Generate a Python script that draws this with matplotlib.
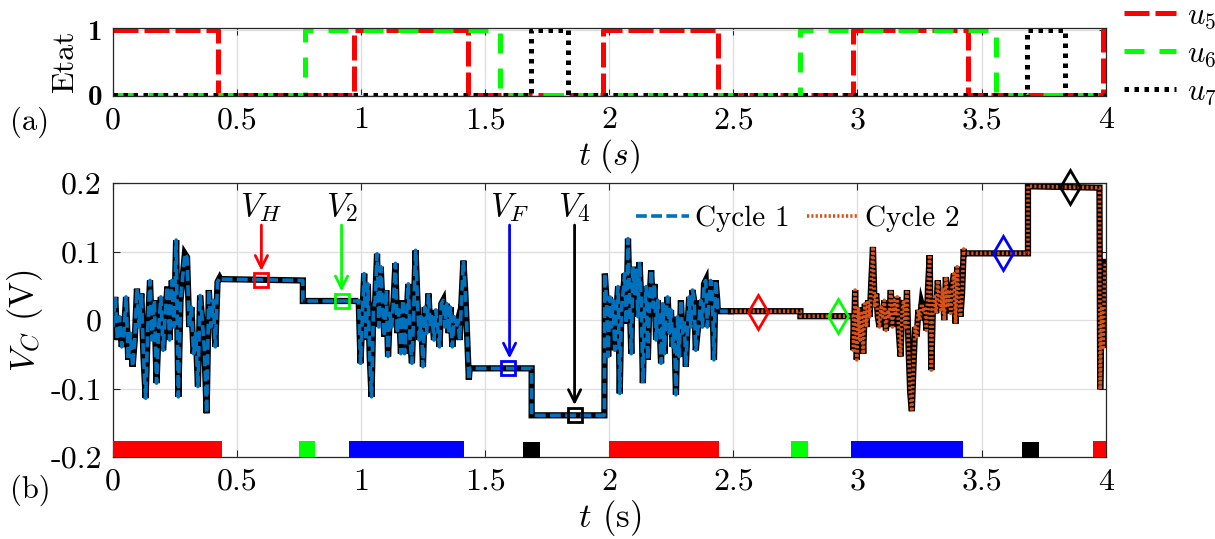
import numpy as np
import matplotlib
matplotlib.use("Agg")
import matplotlib.pyplot as plt

plt.rcParams['font.family'] = ['cmr10', 'DejaVu Serif']
plt.rcParams['mathtext.fontset'] = 'cm'
plt.rcParams['axes.unicode_minus'] = False
plt.rcParams['axes.formatter.use_mathtext'] = True

# ---- (a) switching states: times where each signal toggles, starting level ----
u5_switch = [0.0, 0.425, 0.97, 1.43, 1.975, 2.437, 2.98, 3.444, 3.99, 4.0]
u5_levels = [1, 0, 1, 0, 1, 0, 1, 0, 1]
u6_switch = [0.0, 0.773, 1.56, 2.77, 3.56, 4.0]
u6_levels = [0, 1, 0, 1, 0]
u7_switch = [0.0, 1.685, 1.835, 3.685, 3.835, 4.0]
u7_levels = [0, 1, 0, 1, 0]

# ---- (b) capacitor voltage, noisy parts ----
seg1_t = (0.0, 0.43)
seg1_v = [-0.010, 0.034, -0.029, 0.005, -0.039, -0.019, 0.034, -0.058, -0.019, -0.068,
          -0.029, 0.046, -0.010, 0.039, -0.053, -0.114, -0.010, 0.058, -0.029, 0.029,
          -0.092, -0.010, 0.034, -0.044, 0.010, 0.049, -0.029, 0.058, -0.010, 0.117,
          -0.112, 0.029, 0.063, 0.097, 0.092, -0.010, 0.019, -0.049, -0.019, -0.097,
          0.036, 0.000, -0.044, -0.136, 0.044, -0.010, 0.029, -0.039, 0.056, 0.062]
seg2_t = (0.99, 1.434)
seg2_v = [0.029, -0.063, 0.005, 0.068, -0.029, 0.053, -0.053, -0.112, 0.015, 0.029,
          0.097, -0.010, 0.078, 0.019, -0.024, 0.044, -0.053, 0.010, -0.010, 0.029,
          0.083, -0.019, 0.015, -0.049, 0.029, -0.049, 0.000, 0.053, -0.029, -0.063,
          0.015, 0.102, 0.029, -0.029, 0.005, -0.068, 0.019, -0.019, 0.039, -0.010,
          0.005, -0.029, 0.015, -0.010, -0.039, 0.024, 0.029, -0.010, 0.024, -0.019,
          0.019, -0.039, 0.005, -0.010, 0.000, -0.029, 0.029, 0.087, 0.044, -0.019,
          -0.087]
seg3_t = (1.982, 2.435)
seg3_v = [0.068, 0.029, -0.053, 0.034, -0.010, 0.029, -0.044, 0.015, 0.049, -0.107,
          0.015, 0.039, 0.068, -0.005, 0.119, 0.029, -0.049, 0.078, 0.039, 0.073,
          0.005, 0.085, 0.029, -0.092, 0.015, 0.049, -0.058, 0.029, 0.073, 0.019,
          0.053, -0.029, 0.029, 0.000, -0.063, 0.024, -0.049, 0.010, 0.034, -0.019,
          0.015, -0.039, -0.010, -0.109, 0.005, -0.053, 0.029, -0.019, 0.000, -0.068,
          -0.010, 0.034, -0.010, 0.044, 0.029, -0.044, -0.019, 0.000, 0.029, -0.010,
          0.053, 0.058, -0.010, 0.029, 0.058, 0.039, -0.058, 0.058, 0.029]
seg4_t = (2.984, 3.428)
seg4_v = [-0.044, 0.044, -0.058, 0.019, -0.029, 0.010, -0.049, 0.024, -0.010, 0.029,
          0.005, 0.058, 0.107, 0.019, 0.039, 0.005, -0.010, 0.019, 0.005, 0.029,
          -0.015, 0.015, 0.005, 0.044, -0.010, 0.029, 0.010, 0.034, -0.019, -0.053,
          0.015, 0.029, -0.010, 0.044, -0.044, -0.107, -0.133, -0.068, -0.010, -0.024,
          0.015, 0.000, 0.024, 0.015, 0.019, -0.015, 0.049, 0.095, -0.073, 0.019,
          0.034, 0.010, 0.058, 0.029, 0.015, 0.044, 0.000, 0.063, 0.019, 0.044,
          0.010, 0.053, 0.068, -0.005, 0.078, 0.029, 0.005, 0.039, 0.104]

# flat (held) parts: start, end, level at start, level at end
flat_t0 = [0.433, 0.765, 1.437, 1.687, 2.437, 2.770, 3.430, 3.687]
flat_t1 = [0.765, 0.990, 1.687, 1.980, 2.770, 2.984, 3.687, 3.975]
flat_v0 = [0.060, 0.028, -0.0704, -0.139, 0.0131, 0.0058, 0.0976, 0.1956]
flat_v1 = [0.058, 0.028, -0.0704, -0.139, 0.0131, 0.0058, 0.0976, 0.1935]

# last drop at the very end
tail_t = [3.978, 3.984, 3.990, 3.995, 3.999]
tail_v = [-0.101, 0.020, -0.040, 0.050, 0.085]

cycle_split = 2.49

# held voltages marked in each cycle
mark_names = ['$V_H$', '$V_2$', '$V_F$', '$V_4$']
mark_colors = ['#ff0000', '#00ff00', '#0000ff', '#000000']
cycle1_mark_t = [0.598, 0.921, 1.590, 1.860]
cycle1_mark_v = [0.058, 0.028, -0.070, -0.139]
cycle2_mark_t = [2.600, 2.920, 3.588, 3.858]
cycle2_mark_v = [0.0126, 0.0063, 0.0976, 0.195]
arrow_t = [0.598, 0.921, 1.598, 1.860]
arrow_tip_v = [0.068, 0.038, -0.060, -0.128]

# coloured state strip along the bottom of (b)
strip_t0 = [0.0, 0.749, 0.952, 1.654, 2.0, 2.733, 2.975, 3.662, 3.95]
strip_t1 = [0.44, 0.816, 1.416, 1.722, 2.44, 2.799, 3.425, 3.730, 4.0]
strip_colors = ['#ff0000', '#00ff00', '#0000ff', '#000000',
                '#ff0000', '#00ff00', '#0000ff', '#000000', '#ff0000']

xticks = [0, 0.5, 1, 1.5, 2, 2.5, 3, 3.5, 4]
xtick_labels = ['0', '0.5', '1', '1.5', '2', '2.5', '3', '3.5', '4']
vticks = [-0.2, -0.1, 0, 0.1, 0.2]
vtick_labels = ['-0.2', '-0.1', '0', '0.1', '0.2']


def step_xy(switch, levels):
    """Builds the x/y arrays of a piecewise constant state signal."""
    xs, ys = [], []
    for i, lev in enumerate(levels):
        xs += [switch[i], switch[i + 1]]
        ys += [lev, lev]
    return np.array(xs), np.array(ys)


def build_voltage():
    """Joins noisy and flat pieces of V_C in time order."""
    pieces = []
    for (t0, t1), vals in [(seg1_t, seg1_v), (seg2_t, seg2_v),
                           (seg3_t, seg3_v), (seg4_t, seg4_v)]:
        pieces.append((np.linspace(t0, t1, len(vals)), np.array(vals)))
    for a, b, va, vb in zip(flat_t0, flat_t1, flat_v0, flat_v1):
        pieces.append((np.array([a, b]), np.array([va, vb])))
    pieces.append((np.array(tail_t), np.array(tail_v)))
    pieces.sort(key=lambda p: p[0][0])
    t = np.concatenate([p[0] for p in pieces])
    v = np.concatenate([p[1] for p in pieces])
    return t, v


def split_cycles(t, v):
    """Cuts the curve in two at cycle_split, both halves share the cut point."""
    v_cut = np.interp(cycle_split, t, v)
    m1 = t < cycle_split
    m2 = t > cycle_split
    t1 = np.append(t[m1], cycle_split)
    v1 = np.append(v[m1], v_cut)
    t2 = np.insert(t[m2], 0, cycle_split)
    v2 = np.insert(v[m2], 0, v_cut)
    return (t1, v1), (t2, v2)


def style_axes(ax):
    ax.grid(True, color='#dedede', linewidth=0.9)
    ax.set_axisbelow(True)
    ax.tick_params(direction='in', top=True, right=True, length=5,
                   width=0.8, color='#262626', labelsize=23, pad=8)
    for sp in ax.spines.values():
        sp.set_color('#262626')
        sp.set_linewidth(0.9)


def main():
    fig = plt.figure(figsize=(12.15, 5.39), dpi=100)
    ax1 = fig.add_axes([0.093, 0.822, 0.817, 0.126])
    ax2 = fig.add_axes([0.093, 0.152, 0.817, 0.508])

    # ---- (a) ----
    style_axes(ax1)
    x, y = step_xy(u5_switch, u5_levels)
    ax1.plot(x, y, color='#ff0000', lw=3.6, dashes=(5.0, 1.2), label='$u_5$')
    x, y = step_xy(u6_switch, u6_levels)
    ax1.plot(x, y, color='#00ff00', lw=3.6, dashes=(4.0, 3.0), label='$u_6$')
    x, y = step_xy(u7_switch, u7_levels)
    ax1.plot(x, y, color='black', lw=3.6, dashes=(0.9, 1.1), label='$u_7$')
    ax1.set_xlim(0, 4)
    ax1.set_ylim(-0.015, 1.03)
    ax1.set_xticks(xticks)
    ax1.set_xticklabels(xtick_labels)
    ax1.set_yticks([0, 1])
    ax1.set_yticklabels(['0', '1'], fontsize=21, fontfamily='cmb10')
    ax1.set_ylabel('Etat', fontsize=23, labelpad=6)
    ax1.set_xlabel(r'$t\ (s)$', fontsize=24, labelpad=2)
    fig.legend(*ax1.get_legend_handles_labels(), loc='upper left',
               bbox_to_anchor=(0.925, 0.995), frameon=False, fontsize=22,
               handlelength=1.7, labelspacing=0.3, handletextpad=0.35,
               borderpad=0, borderaxespad=0)
    fig.text(0.008, 1 - 122 / 539, '(a)', fontsize=22, va='center')

    # ---- (b) ----
    style_axes(ax2)
    t, v = build_voltage()
    (t1, v1), (t2, v2) = split_cycles(t, v)
    ax2.plot(t1, v1, color='black', lw=4.5, solid_joinstyle='miter')
    ax2.plot(t1, v1, color='#0072BD', lw=2.6, dashes=(3.0, 1.2), label='Cycle 1')
    ax2.plot(t2, v2, color='black', lw=4.5, solid_joinstyle='miter')
    ax2.plot(t2, v2, color='#D95319', lw=2.6, dashes=(0.6, 0.6), label='Cycle 2')

    for i in range(len(mark_names)):
        ax2.plot(cycle1_mark_t[i], cycle1_mark_v[i], 's', ms=10, mfc='none',
                 mec=mark_colors[i], mew=2, clip_on=False, zorder=4)
        ax2.plot(cycle2_mark_t[i], cycle2_mark_v[i], 'd', ms=17, mfc='none',
                 mec=mark_colors[i], mew=2, clip_on=False, zorder=4)
        ax2.annotate('', xy=(arrow_t[i], arrow_tip_v[i]), xytext=(arrow_t[i], 0.143),
                     arrowprops=dict(arrowstyle='->', color=mark_colors[i], lw=2,
                                     mutation_scale=22))
        ax2.text(arrow_t[i], 0.165, mark_names[i], fontsize=24,
                 ha='center', va='center')

    for a, b, c in zip(strip_t0, strip_t1, strip_colors):
        bottom = -0.2015 if c == '#000000' else -0.2
        ax2.bar(a, 0.0235, width=b - a, bottom=bottom, align='edge',
                color=c, edgecolor='none', clip_on=False, zorder=3)

    ax2.set_xlim(0, 4)
    ax2.set_ylim(-0.2, 0.2)
    ax2.set_xticks(xticks)
    ax2.set_xticklabels(xtick_labels)
    ax2.set_yticks(vticks)
    ax2.set_yticklabels(vtick_labels)
    ax2.set_xlabel('$t$ (s)', fontsize=25, labelpad=2)
    ax2.set_ylabel('$V_C$ (V)', fontsize=25, labelpad=4)
    ax2.legend(loc='center', bbox_to_anchor=(0.69, 0.871), ncol=2, frameon=False,
               fontsize=21, handlelength=1.8, handletextpad=0.2, columnspacing=0.6)
    fig.text(0.008, 1 - 490 / 539, '(b)', fontsize=22, va='center')

    fig.savefig('out.png', dpi=100)


if __name__ == "__main__":
    main()
